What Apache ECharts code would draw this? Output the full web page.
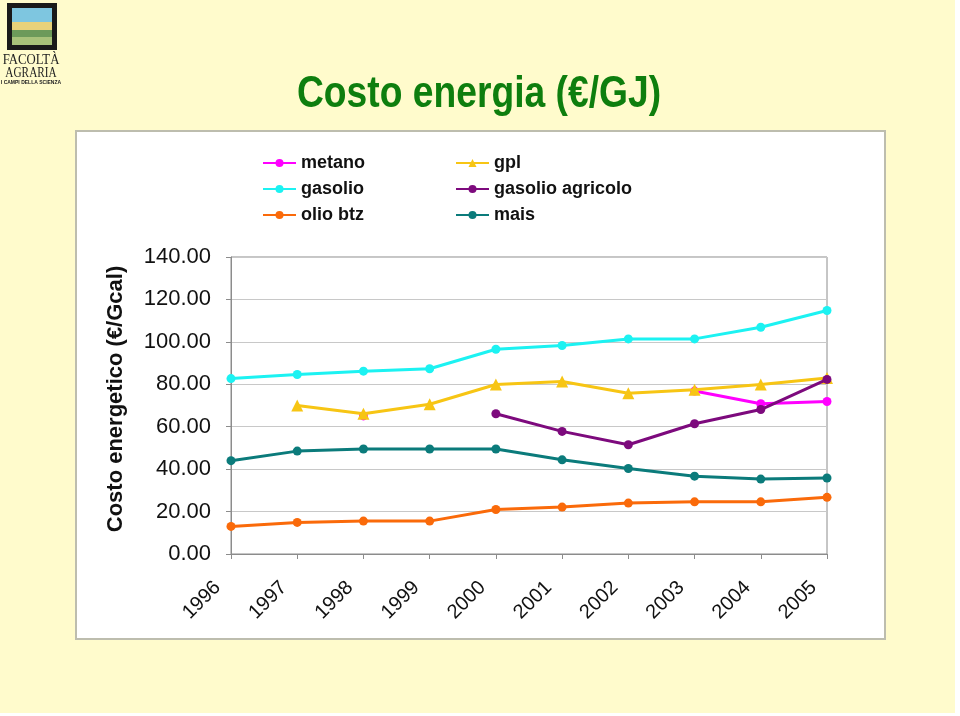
<!DOCTYPE html>
<html>
<head>
<meta charset="utf-8">
<script src="https://cdn.jsdelivr.net/npm/echarts@6/dist/echarts.min.js"></script>
<style>
html,body{margin:0;padding:0;background:#ffffff;}
#chart{width:960px;height:716px;}
</style>
</head>
<body>
<div id="chart"></div>
<script>
var years = ['1996','1997','1998','1999','2000','2001','2002','2003','2004','2005'];
var yTicks = [0, 20, 40, 60, 80, 100, 120, 140];
var metano = [null, null, 65.1, null, null, null, null, 76.8, 70.8, 71.9];
var gasolio = [82.7, 84.6, 86.2, 87.3, 96.5, 98.3, 101.4, 101.4, 106.9, 114.8];
var olioBtz = [13.0, 14.9, 15.5, 15.5, 21.0, 22.1, 24.0, 24.6, 24.6, 26.7];
var gpl = [null, 70.0, 66.1, 70.6, 79.9, 81.3, 75.8, 77.4, 79.9, 83.0];
var gasolioAgricolo = [null, null, null, null, 66.1, 57.8, 51.5, 61.4, 68.1, 82.3];
var mais = [44.0, 48.5, 49.5, 49.5, 49.5, 44.4, 40.3, 36.7, 35.3, 35.8];

var seriesNames = ['metano', 'gasolio', 'olio btz', 'gpl', 'gasolio agricolo', 'mais'];
var seriesData = [metano, gasolio, olioBtz, gpl, gasolioAgricolo, mais];
var seriesColors = ['#FF00FF', '#1CF2F2', '#FA6A0A', '#F7C514', '#7D0A7D', '#0B7B7B'];
var seriesSymbols = ['circle', 'circle', 'circle', 'triangle', 'circle', 'circle'];

var chart = echarts.init(document.getElementById('chart'));

var series = seriesNames.map(function (n, i) {
  return {
    name: n,
    type: 'line',
    data: seriesData[i],
    symbol: seriesSymbols[i],
    symbolSize: seriesSymbols[i] === 'triangle' ? 12 : 9,
    showAllSymbol: true,
    connectNulls: false,
    lineStyle: { width: 3, color: seriesColors[i] },
    itemStyle: { color: seriesColors[i] },
    z: 2 + i
  };
});

var legendText = { fontFamily: 'Liberation Sans, Arial, sans-serif', fontSize: 18, fontWeight: 'bold', color: '#111' };

var option = {
  backgroundColor: '#FFFBCC',
  animation: false,
  graphic: [
    { type: 'rect', left: 955, top: 0, shape: { width: 5, height: 716 }, style: { fill: '#ffffff' }, z: -10 },
    { type: 'rect', left: 0, top: 713, shape: { width: 960, height: 3 }, style: { fill: '#ffffff' }, z: -10 },
    { type: 'rect', shape: { x: 76, y: 131, width: 809, height: 508 }, style: { fill: '#ffffff', stroke: '#BDBDAE', lineWidth: 2 }, z: -5 },
    // logo approximation
    { type: 'rect', shape: { x: 7, y: 3, width: 50, height: 47 }, style: { fill: '#1a1a1a' }, z: 1 },
    { type: 'rect', shape: { x: 12, y: 8, width: 40, height: 14 }, style: { fill: '#7EC6E0' }, z: 2 },
    { type: 'rect', shape: { x: 12, y: 22, width: 40, height: 8 }, style: { fill: '#E8D27A' }, z: 2 },
    { type: 'rect', shape: { x: 12, y: 30, width: 40, height: 7 }, style: { fill: '#6C9A5A' }, z: 2 },
    { type: 'rect', shape: { x: 12, y: 37, width: 40, height: 8 }, style: { fill: '#A8C27A' }, z: 2 },
    { type: 'text', x: 31, y: 53, scaleX: 0.85, style: { text: 'FACOLTÀ', font: '15px "Liberation Serif", serif', fill: '#222', align: 'center', verticalAlign: 'top' }, z: 2 },
    { type: 'text', x: 31, y: 66, scaleX: 0.75, style: { text: 'AGRARIA', font: '15px "Liberation Serif", serif', fill: '#222', align: 'center', verticalAlign: 'top' }, z: 2 },
    { type: 'text', x: 31, y: 80, style: { text: 'I CAMPI DELLA SCIENZA', font: 'bold 5px "Liberation Sans", sans-serif', fill: '#222', align: 'center', verticalAlign: 'top' }, z: 2 },
    // title
    { type: 'text', x: 479, y: 95, scaleX: 0.846,
      style: { text: 'Costo energia (€/GJ)', font: 'bold 44px "Liberation Sans", Arial, sans-serif', fill: '#0E7E0E', align: 'center', verticalAlign: 'middle' }, z: 2 },
    // y axis title
    { type: 'text', x: 116, y: 399, rotation: Math.PI / 2,
      style: { text: 'Costo energetico (€/Gcal)', font: 'bold 22px "Liberation Sans", Arial, sans-serif', fill: '#111', align: 'center', verticalAlign: 'middle' }, z: 2 }
  ],
  legend: [
    {
      data: ['metano', 'gasolio', 'olio btz'],
      orient: 'vertical', left: 262, top: 154, padding: 0, itemWidth: 33, itemHeight: 10, itemGap: 8,
      textStyle: legendText
    },
    {
      data: ['gpl', 'gasolio agricolo', 'mais'],
      orient: 'vertical', left: 455, top: 154, padding: 0, itemWidth: 33, itemHeight: 10, itemGap: 8,
      textStyle: legendText
    }
  ],
  grid: {
    left: 231, right: 133, top: 257, bottom: 162,
    show: true, borderColor: '#8c8c8c', borderWidth: 1, backgroundColor: 'transparent'
  },
  xAxis: {
    type: 'category',
    data: years,
    boundaryGap: false,
    axisLine: { lineStyle: { color: '#8c8c8c', width: 1 } },
    axisTick: { show: true, length: 5, lineStyle: { color: '#8c8c8c' } },
    axisLabel: { rotate: 45, margin: 17, padding: [0, 19, 0, 0], fontFamily: 'Liberation Sans, Arial, sans-serif', fontSize: 20, color: '#111' },
    splitLine: { show: false }
  },
  yAxis: {
    type: 'value',
    min: 0, max: 140, interval: 20,
    axisLine: { show: true, lineStyle: { color: '#8c8c8c', width: 1 } },
    axisTick: { show: true, length: 5, lineStyle: { color: '#8c8c8c' } },
    axisLabel: {
      margin: 20, fontFamily: 'Liberation Sans, Arial, sans-serif', fontSize: 22, color: '#111',
      formatter: function (v) { return yTicks.indexOf(v) >= 0 ? v.toFixed(2) : ''; }
    },
    splitLine: { lineStyle: { color: '#c8c8c8', width: 1 } }
  },
  series: series
};
chart.setOption(option);
</script>
</body>
</html>
